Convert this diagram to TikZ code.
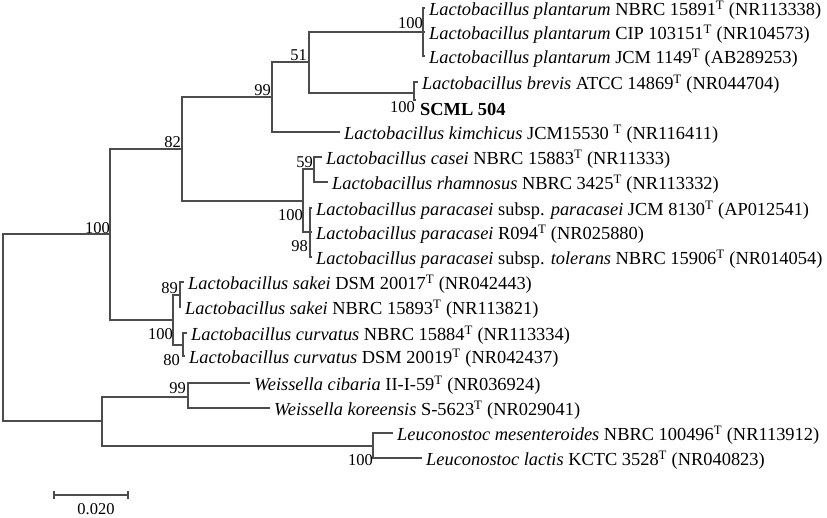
\documentclass[tikz,border=0pt]{standalone}
\usepackage{fontspec}
\setmainfont{Liberation Serif}
\begin{document}
\begin{tikzpicture}[x=1pt,y=-1pt,
  br/.style={draw=black!70, line width=1.3pt},
  leaf/.style={anchor=west, inner sep=0pt, xshift=4pt, yshift=-2pt, font=\fontsize{18.4}{20}\selectfont},
  bs/.style={anchor=east, inner sep=0pt, font=\fontsize{16.5}{18}\selectfont}]
\useasboundingbox (0,0) rectangle (827,518);
% internal nodes
\coordinate (R) at (3,327);
\coordinate (A) at (110,234);
\coordinate (B) at (182,149);
\coordinate (C) at (272,97);
\coordinate (D) at (309,62);
\coordinate (E) at (423,32);
\coordinate (F) at (414,93);
\coordinate (G) at (303,201);
\coordinate (H) at (314,169);
\coordinate (I) at (310,232);
\coordinate (J) at (173,320);
\coordinate (K) at (180,295);
\coordinate (L) at (183,345);
\coordinate (W) at (102,421);
\coordinate (M) at (188,397);
\coordinate (N) at (373,446);
% leaf tips
\coordinate (l1) at (425,8);
\coordinate (l2) at (425,32);
\coordinate (l3) at (425,56);
\coordinate (l4) at (418,82);
\coordinate (l5) at (416,100);
\coordinate (l6) at (340,132);
\coordinate (l7) at (322,157);
\coordinate (l8) at (328,182);
\coordinate (l9) at (312,208);
\coordinate (l10) at (312,232);
\coordinate (l11) at (312,257);
\coordinate (l12) at (184,282);
\coordinate (l13) at (181,307);
\coordinate (l14) at (187,333);
\coordinate (l15) at (185,356);
\coordinate (l16) at (250,383);
\coordinate (l17) at (270,408);
\coordinate (l18) at (393,433);
\coordinate (l19) at (422,458);
% branches
\draw[br] (R) |- (A);  \draw[br] (R) |- (W);
\draw[br] (A) |- (B);  \draw[br] (A) |- (J);
\draw[br] (B) |- (C);  \draw[br] (B) |- (G);
\draw[br] (C) |- (D);  \draw[br] (C) |- (l6);
\draw[br] (D) |- (E);  \draw[br] (D) |- (F);
\draw[br] (E) |- (l1); \draw[br] (E) |- (l2); \draw[br] (E) |- (l3);
\draw[br] (F) |- (l4); \draw[br] (F) |- (l5);
\draw[br] (G) |- (H);  \draw[br] (G) |- (I);
\draw[br] (H) |- (l7); \draw[br] (H) |- (l8);
\draw[br] (I) |- (l9); \draw[br] (I) |- (l10); \draw[br] (I) |- (l11);
\draw[br] (J) |- (K);  \draw[br] (J) |- (L);
\draw[br] (K) |- (l12); \draw[br] (K) |- (l13);
\draw[br] (L) |- (l14); \draw[br] (L) |- (l15);
\draw[br] (W) |- (M);  \draw[br] (W) |- (N);
\draw[br] (M) |- (l16); \draw[br] (M) |- (l17);
\draw[br] (N) |- (l18); \draw[br] (N) |- (l19);
% leaf labels
\node[leaf] (t1) at (l1) {\textit{Lactobacillus plantarum} NBRC 15891\textsuperscript{T} (NR113338)};
\node[leaf] (t2) at (l2) {\textit{Lactobacillus plantarum} CIP 103151\textsuperscript{T} (NR104573)};
\node[leaf] (t3) at (l3) {\textit{Lactobacillus plantarum} JCM 1149\textsuperscript{T} (AB289253)};
\node[leaf] (t4) at (l4) {\textit{Lactobacillus brevis} ATCC 14869\textsuperscript{T} (NR044704)};
\node[leaf, yshift=-7pt] (t5) at (l5) {\textbf{SCML 504}};
\node[leaf] (t6) at (l6) {\textit{Lactobacillus kimchicus} JCM15530 \textsuperscript{T} (NR116411)};
\node[leaf] (t7) at (l7) {\textit{Lactobacillus casei} NBRC 15883\textsuperscript{T} (NR11333)};
\node[leaf] (t8) at (l8) {\textit{Lactobacillus rhamnosus} NBRC 3425\textsuperscript{T} (NR113332)};
\node[leaf] (t9) at (l9) {\textit{Lactobacillus paracasei} subsp. \textit{paracasei} JCM 8130\textsuperscript{T} (AP012541)};
\node[leaf] (t10) at (l10) {\textit{Lactobacillus paracasei} R094\textsuperscript{T} (NR025880)};
\node[leaf] (t11) at (l11) {\textit{Lactobacillus paracasei} subsp. \textit{tolerans} NBRC 15906\textsuperscript{T} (NR014054)};
\node[leaf] (t12) at (l12) {\textit{Lactobacillus sakei} DSM 20017\textsuperscript{T} (NR042443)};
\node[leaf] (t13) at (l13) {\textit{Lactobacillus sakei} NBRC 15893\textsuperscript{T} (NR113821)};
\node[leaf] (t14) at (l14) {\textit{Lactobacillus curvatus} NBRC 15884\textsuperscript{T} (NR113334)};
\node[leaf] (t15) at (l15) {\textit{Lactobacillus curvatus} DSM 20019\textsuperscript{T} (NR042437)};
\node[leaf] (t16) at (l16) {\textit{Weissella cibaria} II-I-59\textsuperscript{T} (NR036924)};
\node[leaf] (t17) at (l17) {\textit{Weissella koreensis} S-5623\textsuperscript{T} (NR029041)};
\node[leaf] (t18) at (l18) {\textit{Leuconostoc mesenteroides} NBRC 100496\textsuperscript{T} (NR113912)};
\node[leaf] (t19) at (l19) {\textit{Leuconostoc lactis} KCTC 3528\textsuperscript{T} (NR040823)};
% bootstrap values
\node[bs] (bA) at (110,228) {100};
\node[bs] (bB) at (181,142) {82};
\node[bs] (bC) at (271,90) {99};
\node[bs] (bD) at (307,55) {51};
\node[bs] (bE) at (423,23) {100};
\node[bs] (bF) at (415,107) {100};
\node[bs] (bG) at (303,215) {100};
\node[bs] (bH) at (313,162) {59};
\node[bs] (bI) at (308,246) {98};
\node[bs] (bJ) at (173,334) {100};
\node[bs] (bK) at (178,288) {89};
\node[bs] (bL) at (180,360) {80};
\node[bs] (bM) at (186,388) {99};
\node[bs] (bN) at (373,460) {100};
% scale bar
\coordinate (s1) at (54,495);
\coordinate (s2) at (128,495);
\draw[br, line width=1.1pt] (s1) -- (s2);
\draw[br, line width=1.1pt] ([yshift=4pt]s1) -- ([yshift=-4pt]s1);
\draw[br, line width=1.1pt] ([yshift=4pt]s2) -- ([yshift=-4pt]s2);
\node[inner sep=0pt, font=\fontsize{16.5}{18}\selectfont] (scl) at (96,509) {0.020};
\end{tikzpicture}
\end{document}
